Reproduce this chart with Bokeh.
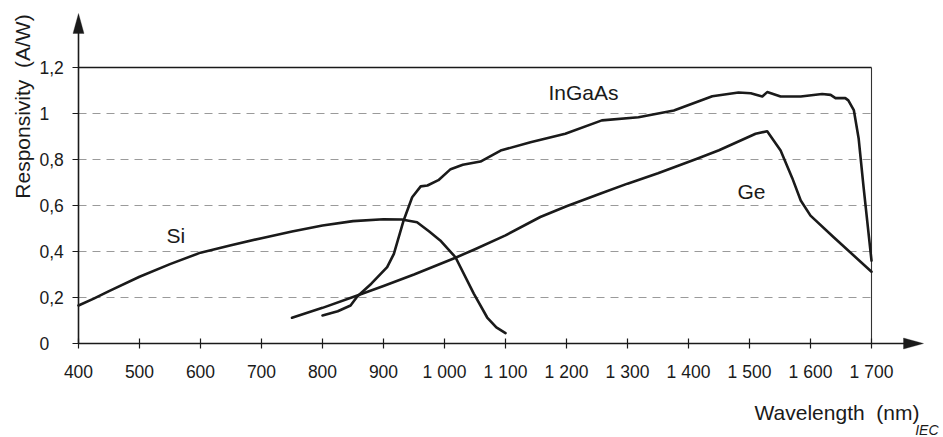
import math
from bokeh.plotting import figure
from bokeh.models import FixedTicker, Label, PolyAnnotation, Range1d
from bokeh.core.properties import value
from bokeh.embed import file_html
from bokeh.resources import INLINE

# ---- data ----
si_x = [400, 425, 450, 500, 550, 600, 650, 700, 750, 800, 850, 900, 930, 955, 975, 993, 1018, 1048, 1070, 1085, 1100]
si_y = [0.165, 0.195, 0.228, 0.29, 0.345, 0.395, 0.427, 0.458, 0.487, 0.513, 0.532, 0.54, 0.539, 0.527, 0.487, 0.448, 0.375, 0.217, 0.113, 0.07, 0.045]

ge_x = [750, 800, 857, 900, 950, 1018, 1050, 1100, 1157, 1200, 1256, 1300, 1350, 1415, 1450, 1510, 1529, 1551, 1570, 1584, 1600, 1638, 1700]
ge_y = [0.112, 0.155, 0.209, 0.25, 0.30, 0.373, 0.41, 0.47, 0.55, 0.597, 0.652, 0.695, 0.74, 0.804, 0.84, 0.912, 0.923, 0.839, 0.72, 0.622, 0.556, 0.462, 0.312]

ingaas_x = [800, 825, 846, 857, 880, 906, 917, 933, 947, 961, 972, 990, 1010, 1030, 1059, 1092, 1141, 1198, 1258, 1318, 1376, 1439, 1482, 1502, 1521, 1529, 1551, 1584, 1619, 1633, 1641, 1657, 1662, 1671, 1679, 1687, 1700]
ingaas_y = [0.122, 0.14, 0.165, 0.204, 0.26, 0.332, 0.39, 0.535, 0.636, 0.683, 0.687, 0.71, 0.758, 0.777, 0.791, 0.839, 0.875, 0.912, 0.97, 0.984, 1.013, 1.075, 1.091, 1.088, 1.074, 1.093, 1.074, 1.074, 1.085, 1.081, 1.067, 1.067, 1.057, 1.015, 0.89, 0.68, 0.36]

x_ticks = [400, 500, 600, 700, 800, 900, 1000, 1100, 1200, 1300, 1400, 1500, 1600, 1700]
x_tick_labels = ["400", "500", "600", "700", "800", "900", "1 000", "1 100", "1 200", "1 300", "1 400", "1 500", "1 600", "1 700"]
y_ticks = [0, 0.2, 0.4, 0.6, 0.8, 1.0, 1.2]
y_tick_labels = ["0", "0,2", "0,4", "0,6", "0,8", "1", "1,2"]
dashed_grid = [0.2, 0.4, 0.6, 0.8, 1.0]

FONT = "Liberation Sans"
INK = "#1a1a1a"

# canvas 943 x 437; origin (400 nm, 0) at pixel (78, 343); 61 px per 100 nm, 230 px per A/W
W, H = 943, 437
PX_X = 0.61
PX_Y = 230.0
OX, OY = 78, 343
x0 = x_ticks[0]
x_start = x0 - OX / PX_X
x_stop = x_start + W / PX_X
y_stop = OY / PX_Y
y_start = -(H - OY) / PX_Y
x_tip = x0 + (923 - OX) / PX_X      # end of the wavelength axis arrow
y_tip = (OY - 13) / PX_Y            # end of the responsivity axis arrow
HEAD_L, HEAD_W = 20, 5.5            # arrow head length / half width in px


def px_x(px):
    return x0 + (px - OX) / PX_X


def px_y(py):
    return (OY - py) / PX_Y


p = figure(width=W, height=H, output_backend="svg", toolbar_location=None, title=None,
           x_range=Range1d(x_start, x_stop), y_range=Range1d(y_start, y_stop),
           min_border=0, min_border_left=0, min_border_right=0, min_border_top=0, min_border_bottom=0)
p.outline_line_color = None
p.xgrid.visible = False
p.ygrid.visible = False
p.background_fill_color = "white"
p.border_fill_color = "white"

xa = p.xaxis[0]
xa.fixed_location = 0
xa.ticker = FixedTicker(ticks=x_ticks)
xa.major_label_overrides = dict(zip(x_ticks, x_tick_labels))
xa.minor_tick_line_color = None
xa.major_tick_in = 5
xa.major_tick_out = 5
xa.axis_line_color = None
xa.major_tick_line_color = INK
xa.major_tick_line_width = 1.2
xa.major_label_text_font = FONT
xa.major_label_text_font_size = "17.5px"
xa.major_label_text_color = INK
xa.major_label_standoff = 13

ya = p.yaxis[0]
ya.fixed_location = x0
ya.ticker = FixedTicker(ticks=y_ticks)
ya.major_label_overrides = dict(zip(y_ticks, [""] * len(y_ticks)))
ya.minor_tick_line_color = None
ya.major_tick_in = 0
ya.major_tick_out = 6
ya.axis_line_color = None
ya.major_tick_line_color = INK
ya.major_tick_line_width = 1.2

# y tick labels (left aligned as in the reference)
p.text(x=[px_x(39)] * len(y_ticks), y=y_ticks, text=y_tick_labels, text_font=value(FONT),
       text_font_size="17.5px", text_align="left", text_baseline="middle", text_color=INK)

# grid / frame lines
p.segment(x0=[x_ticks[0]] * len(dashed_grid), y0=dashed_grid, x1=[x_ticks[-1]] * len(dashed_grid), y1=dashed_grid,
          line_color="#9a9a9a", line_width=1.1, line_dash="8 6")
p.segment(x0=[x_ticks[0]], y0=[y_ticks[-1]], x1=[x_ticks[-1]], y1=[y_ticks[-1]], line_color=INK, line_width=1.3)
p.segment(x0=[x_ticks[-1]], y0=[y_ticks[0]], x1=[x_ticks[-1]], y1=[y_ticks[-1]], line_color="#333333", line_width=1.1)

# axis lines with arrow heads
p.segment(x0=[x0, x0], y0=[0, 0], x1=[x_tip - 5 / PX_X, x0], y1=[0, y_tip - 5 / PX_Y], line_color=INK, line_width=1.6)
p.add_layout(PolyAnnotation(xs=[x0 - HEAD_W / PX_X, x0, x0 + HEAD_W / PX_X],
                            ys=[y_tip - HEAD_L / PX_Y, y_tip, y_tip - HEAD_L / PX_Y],
                            fill_color=INK, fill_alpha=1, line_color=INK, line_width=1))
p.add_layout(PolyAnnotation(xs=[x_tip - HEAD_L / PX_X, x_tip, x_tip - HEAD_L / PX_X],
                            ys=[HEAD_W / PX_Y, 0, -HEAD_W / PX_Y],
                            fill_color=INK, fill_alpha=1, line_color=INK, line_width=1))

# curves
for xs, ys in ((si_x, si_y), (ge_x, ge_y), (ingaas_x, ingaas_y)):
    p.line(xs, ys, line_color=INK, line_width=2.6, line_join="round", line_cap="round")


def lab(x, y, text, size="21px", align="left", baseline="alphabetic", angle=0.0, style="normal"):
    p.add_layout(Label(x=x, y=y, text=text, text_font=FONT, text_font_size=size,
                       text_align=align, text_baseline=baseline, angle=angle,
                       text_color=INK, text_font_style=style))


lab(px_x(548), px_y(91.7), "InGaAs")
lab(px_x(737), px_y(190.7), "Ge")
lab(px_x(166), px_y(234.7), "Si")
lab(px_x(919), px_y(411.7), "Wavelength \u00a0(nm)", align="right")
lab(px_x(22), px_y(106), "Responsivity \u00a0(A/W)", align="center", angle=math.pi / 2)
lab(px_x(938), px_y(429), "IEC", size="14px", align="right", style="italic")

open("out.html", "w").write(file_html(p, INLINE))
